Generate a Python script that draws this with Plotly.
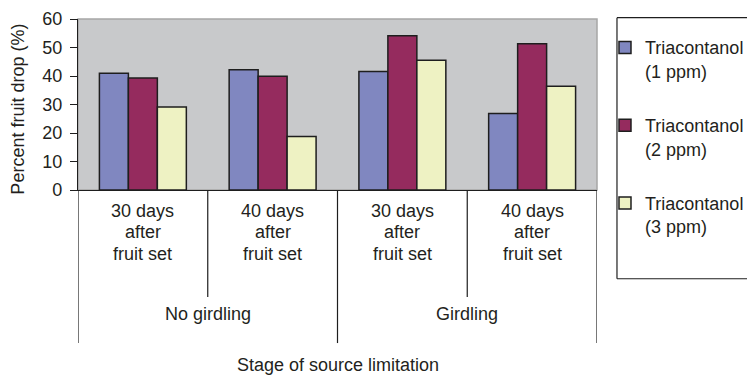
import plotly.graph_objects as go

# ---- data ----
categories = [0, 1, 2, 3]
sub_labels = [["30 days", "after", "fruit set"], ["40 days", "after", "fruit set"],
              ["30 days", "after", "fruit set"], ["40 days", "after", "fruit set"]]
group_labels = ["No girdling", "Girdling"]
group_centers = [0.5, 2.5]
series_names = ["Triacontanol<br>(1 ppm)", "Triacontanol<br>(2 ppm)", "Triacontanol<br>(3 ppm)"]
tri_1ppm = [41.0, 42.2, 41.6, 26.8]
tri_2ppm = [39.3, 39.9, 54.1, 51.3]
tri_3ppm = [29.1, 18.8, 45.5, 36.4]
y_ticks = [0, 10, 20, 30, 40, 50, 60]

colors = ["#8087C0", "#952B5E", "#EEF2C3"]
FONT = "Liberation Sans, Arial, sans-serif"
TXT = "#231F20"

fig = go.Figure()
for i, (name, vals) in enumerate(zip(series_names, [tri_1ppm, tri_2ppm, tri_3ppm])):
    fig.add_trace(go.Bar(
        x=categories, y=vals, name=name, legendgroup=f"g{i}",
        marker=dict(color=colors[i], line=dict(color="#1E1E1E", width=1.5)),
    ))

shapes = []
# plot border (light, top/right)
shapes.append(dict(type="rect", xref="paper", yref="paper", x0=0, x1=1, y0=0, y1=1,
                   line=dict(color="#A6A6A6", width=1.5), layer="below"))
# dividers below the axis
for xb in [0.5, 2.5]:
    shapes.append(dict(type="line", xref="x", yref="paper", x0=xb, x1=xb, y0=0, y1=-0.625,
                       line=dict(color="#1E1E1E", width=1.2)))
for xb in [-0.5, 1.5, 3.5]:
    shapes.append(dict(type="line", xref="x", yref="paper", x0=xb, x1=xb, y0=0, y1=-0.895,
                       line=dict(color="#1E1E1E", width=1.2)))
# legend box: top, left and bottom edges only (the right side runs off the canvas)
LX0, LX1, LY0, LY1 = 1.0385, 1.29, -0.519, 1.0076
for seg in [(LX0, LY1, LX1, LY1), (LX0, LY0, LX0, LY1), (LX0, LY0, LX1, LY0)]:
    shapes.append(dict(type="line", xref="paper", yref="paper", x0=seg[0], y0=seg[1], x1=seg[2], y1=seg[3],
                       line=dict(color="#1E1E1E", width=1.2)))

annotations = []
line_y = [-0.121, -0.247, -0.373]
for c, lines in zip(categories, sub_labels):
    for ly, txt in zip(line_y, lines):
        annotations.append(dict(x=c, y=ly, xref="x", yref="paper", text=txt, showarrow=False,
                                xanchor="center", yanchor="middle",
                                font=dict(size=18, color=TXT, family=FONT)))
for gc, lab in zip(group_centers, group_labels):
    annotations.append(dict(x=gc, y=-0.723, xref="x", yref="paper", text=lab, showarrow=False,
                            xanchor="center", yanchor="middle", font=dict(size=18, color=TXT, family=FONT)))
annotations.append(dict(x=1.5, y=-1.022, xref="x", yref="paper", text="Stage of source limitation",
                        showarrow=False, xanchor="center", yanchor="middle",
                        font=dict(size=18, color=TXT, family=FONT)))
annotations.append(dict(x=0, xshift=-60, y=0.47, xref="paper", yref="paper", text="Percent fruit drop (%)",
                        textangle=-90, showarrow=False, xanchor="center", yanchor="middle",
                        font=dict(size=18, color=TXT, family=FONT)))

fig.update_layout(
    width=747, height=382,
    margin=dict(l=78, r=150, t=19, b=192, autoexpand=False),
    paper_bgcolor="white", plot_bgcolor="#C8C9CB",
    barmode="group", bargap=0.33, bargroupgap=0,
    font=dict(family=FONT, size=18, color=TXT),
    showlegend=True,
    legend=dict(x=1.0154, xanchor="left", y=0.94, yanchor="top", bgcolor="rgba(0,0,0,0)",
                borderwidth=0, font=dict(size=18, color=TXT, family=FONT),
                tracegroupgap=28, valign="top", traceorder="grouped", maxheight=330),
    xaxis=dict(range=[-0.5, 3.5], showticklabels=False, ticks="", showgrid=False, zeroline=False,
               showline=True, linecolor="#1E1E1E", linewidth=1.2, automargin=False),
    yaxis=dict(range=[0, 60], tickvals=y_ticks, ticks="outside", ticklen=7, tickcolor="#1E1E1E",
               tickwidth=1.2, showgrid=False, zeroline=False, showline=True, linecolor="#1E1E1E",
               linewidth=1.2, tickfont=dict(size=18, color=TXT, family=FONT), automargin=False,
               ticklabelstandoff=4),
    shapes=shapes, annotations=annotations,
)

fig.write_html("out.html", config={"displayModeBar": False})
# remove the default page margin so the figure sits at the window's top-left corner
with open("out.html", "r", encoding="utf-8") as f:
    html = f.read()
html = html.replace("<head>", "<head><style>html,body{margin:0;padding:0;overflow:hidden;}</style>", 1)
with open("out.html", "w", encoding="utf-8") as f:
    f.write(html)
